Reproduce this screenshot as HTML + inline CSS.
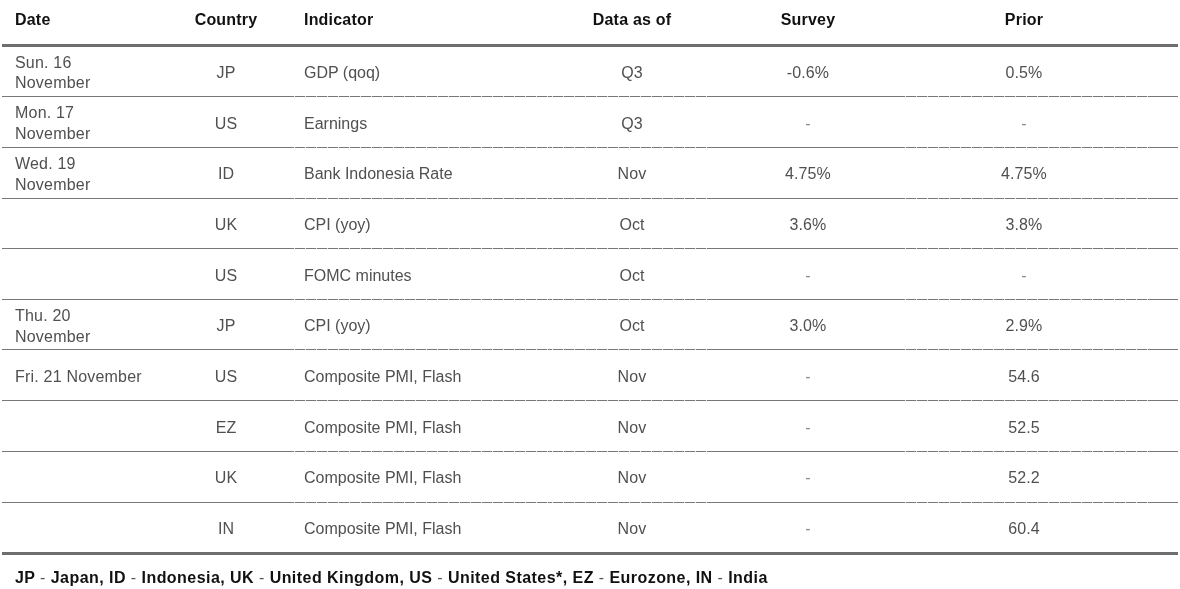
<!DOCTYPE html>
<html><head><meta charset="utf-8"><title>Calendar</title>
<style>
html,body{margin:0;padding:0;background:#fff;}
body{width:1180px;height:589px;position:relative;overflow:hidden;font-family:"Liberation Sans",Arial,Helvetica,sans-serif;font-size:16px;line-height:20px;color:#505050;letter-spacing:0.1px;}
.thick{position:absolute;left:2px;width:1176px;height:3px;background:#6e6e6e;}
.line{position:absolute;left:2px;width:1176px;height:1px;background:#777;}
.g{position:absolute;top:0;height:1px;background:repeating-linear-gradient(to right,#e4e4e4 0,#e4e4e4 1px,transparent 1px,transparent 11px);}
.g1{left:292px;width:254px;}
.g2{left:550px;width:155px;}
.g3{left:903px;width:243px;}
.txt{position:absolute;left:0;top:0;width:1180px;height:589px;will-change:transform;}
.c{position:absolute;white-space:nowrap;}
.h{font-weight:bold;color:#111;letter-spacing:0.2px !important;}
.d{left:15px;letter-spacing:0.2px;}
.n{font-weight:normal;color:#555;}
.dash{color:#8a8a8a;}
.co{left:176px;width:100px;text-align:center;}
.i{left:304px;letter-spacing:0;}
.a{left:572px;width:120px;text-align:center;}
.s{left:748px;width:120px;text-align:center;}
.p{left:964px;width:120px;text-align:center;}
.foot{position:absolute;left:15px;top:568px;font-weight:bold;color:#111;white-space:nowrap;letter-spacing:0.45px;}
</style></head><body>
<div class="thick" style="top:44px"></div>

<div class="line" style="top:96px"><div class="g g1"></div><div class="g g2"></div><div class="g g3"></div></div>
<div class="line" style="top:147px"><div class="g g1"></div><div class="g g2"></div><div class="g g3"></div></div>
<div class="line" style="top:198px"><div class="g g1"></div><div class="g g2"></div><div class="g g3"></div></div>
<div class="line" style="top:248px"><div class="g g1"></div><div class="g g2"></div><div class="g g3"></div></div>
<div class="line" style="top:299px"><div class="g g1"></div><div class="g g2"></div><div class="g g3"></div></div>
<div class="line" style="top:349px"><div class="g g1"></div><div class="g g2"></div><div class="g g3"></div></div>
<div class="line" style="top:400px"><div class="g g1"></div><div class="g g2"></div><div class="g g3"></div></div>
<div class="line" style="top:451px"><div class="g g1"></div><div class="g g2"></div><div class="g g3"></div></div>
<div class="line" style="top:502px"><div class="g g1"></div><div class="g g2"></div><div class="g g3"></div></div>
<div class="thick" style="top:552px"></div>
<div class="txt">
<div class="c h d" style="top:10px">Date</div>
<div class="c h co" style="top:10px">Country</div>
<div class="c h i" style="top:10px">Indicator</div>
<div class="c h a" style="top:10px">Data as of</div>
<div class="c h s" style="top:10px">Survey</div>
<div class="c h p" style="top:10px">Prior</div>
<div class="c d" style="top:53px">Sun. 16</div>
<div class="c d" style="top:73px">November</div>
<div class="c co" style="top:63px">JP</div>
<div class="c i" style="top:63px">GDP (qoq)</div>
<div class="c a" style="top:63px">Q3</div>
<div class="c s" style="top:63px">-0.6%</div>
<div class="c p" style="top:63px">0.5%</div>
<div class="c d" style="top:103px">Mon. 17</div>
<div class="c d" style="top:124px">November</div>
<div class="c co" style="top:114px">US</div>
<div class="c i" style="top:114px">Earnings</div>
<div class="c a" style="top:114px">Q3</div>
<div class="c s dash" style="top:114px">-</div>
<div class="c p dash" style="top:114px">-</div>
<div class="c d" style="top:154px">Wed. 19</div>
<div class="c d" style="top:175px">November</div>
<div class="c co" style="top:164px">ID</div>
<div class="c i" style="top:164px">Bank Indonesia Rate</div>
<div class="c a" style="top:164px">Nov</div>
<div class="c s" style="top:164px">4.75%</div>
<div class="c p" style="top:164px">4.75%</div>
<div class="c co" style="top:215px">UK</div>
<div class="c i" style="top:215px">CPI (yoy)</div>
<div class="c a" style="top:215px">Oct</div>
<div class="c s" style="top:215px">3.6%</div>
<div class="c p" style="top:215px">3.8%</div>
<div class="c co" style="top:266px">US</div>
<div class="c i" style="top:266px">FOMC minutes</div>
<div class="c a" style="top:266px">Oct</div>
<div class="c s dash" style="top:266px">-</div>
<div class="c p dash" style="top:266px">-</div>
<div class="c d" style="top:306px">Thu. 20</div>
<div class="c d" style="top:327px">November</div>
<div class="c co" style="top:316px">JP</div>
<div class="c i" style="top:316px">CPI (yoy)</div>
<div class="c a" style="top:316px">Oct</div>
<div class="c s" style="top:316px">3.0%</div>
<div class="c p" style="top:316px">2.9%</div>
<div class="c d" style="top:367px">Fri. 21 November</div>
<div class="c co" style="top:367px">US</div>
<div class="c i" style="top:367px">Composite PMI, Flash</div>
<div class="c a" style="top:367px">Nov</div>
<div class="c s dash" style="top:367px">-</div>
<div class="c p" style="top:367px">54.6</div>
<div class="c co" style="top:418px">EZ</div>
<div class="c i" style="top:418px">Composite PMI, Flash</div>
<div class="c a" style="top:418px">Nov</div>
<div class="c s dash" style="top:418px">-</div>
<div class="c p" style="top:418px">52.5</div>
<div class="c co" style="top:468px">UK</div>
<div class="c i" style="top:468px">Composite PMI, Flash</div>
<div class="c a" style="top:468px">Nov</div>
<div class="c s dash" style="top:468px">-</div>
<div class="c p" style="top:468px">52.2</div>
<div class="c co" style="top:519px">IN</div>
<div class="c i" style="top:519px">Composite PMI, Flash</div>
<div class="c a" style="top:519px">Nov</div>
<div class="c s dash" style="top:519px">-</div>
<div class="c p" style="top:519px">60.4</div>
<div class="foot">JP <span class="n">-</span> Japan, ID <span class="n">-</span> Indonesia, UK <span class="n">-</span> United Kingdom, US <span class="n">-</span> United States*, EZ <span class="n">-</span> Eurozone, IN <span class="n">-</span> India</div>
</div>
</body></html>
